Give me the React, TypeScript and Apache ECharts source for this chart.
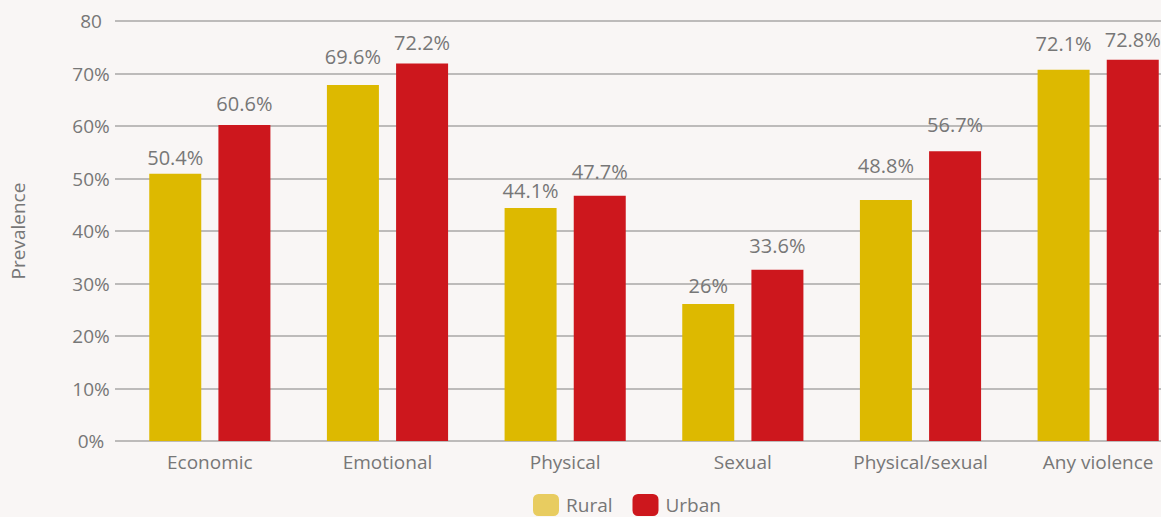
import React, { useEffect, useRef } from "react";
import * as echarts from "echarts";

const categories = ["Economic", "Emotional", "Physical", "Sexual", "Physical/sexual", "Any violence"];
const seriesNames = ["Rural", "Urban"];
// bar heights as drawn
const ruralBars = [50.9, 67.8, 44.4, 26.1, 45.9, 70.7];
const urbanBars = [60.2, 71.9, 46.7, 32.6, 55.2, 72.6];
// values printed as labels
const ruralLabels = [50.4, 69.6, 44.1, 26, 48.8, 72.1];
const urbanLabels = [60.6, 72.2, 47.7, 33.6, 56.7, 72.8];
const yTicks = [0, 10, 20, 30, 40, 50, 60, 70, 80];

const FONT = "Open Sans";
const GREY = "#777777";
const GOLD = "#ddb900";
const RED = "#cd171d";
const GOLD_LEGEND = "#e8cc60";

export default function App() {
  const ref = useRef<HTMLDivElement>(null);
  useEffect(() => {
    if (!ref.current) return;
    const chart = echarts.init(ref.current, null, { renderer: "svg" });
    const gridBars = { left: 121, right: 0, top: 21, bottom: 76, containLabel: false };
    const yBase = {
      type: "value",
      min: 0,
      max: 80,
      interval: 10,
    };
    chart.setOption({
      animation: false,
      backgroundColor: "#f9f6f5",
      textStyle: { fontFamily: FONT },
      grid: [
        { left: 113, right: 26, top: 21, bottom: 76 },
        gridBars,
        gridBars,
      ],
      xAxis: [
        { type: "category", gridIndex: 0, data: categories, show: false },
        {
          type: "category",
          gridIndex: 1,
          data: categories,
          axisLine: { show: false },
          axisTick: { show: false },
          axisLabel: { color: GREY, fontSize: 19, fontFamily: FONT, margin: 11, interval: 0 },
        },
        { type: "category", gridIndex: 2, data: categories, show: false },
      ],
      yAxis: [
        {
          ...yBase,
          gridIndex: 0,
          name: "Prevalence",
          nameLocation: "middle",
          nameGap: 88,
          nameRotate: 90,
          nameTextStyle: { color: GREY, fontSize: 19, fontFamily: FONT },
          axisLine: { show: false },
          axisTick: { show: false },
          splitLine: { show: true, lineStyle: { color: "#a9a7a6", width: 1.5 } },
          axisLabel: {
            color: GREY,
            fontSize: 19,
            fontFamily: FONT,
            align: "center",
            margin: 24,
            formatter: (v: number) => (v === yTicks[yTicks.length - 1] ? `${v}` : `${v}%`),
          },
        },
        { ...yBase, gridIndex: 1, show: false, splitLine: { show: false } },
        { ...yBase, gridIndex: 2, show: false, splitLine: { show: false } },
      ],
      legend: {
        top: 489,
        left: 528,
        itemWidth: 26,
        itemHeight: 22,
        itemGap: 20,
        textStyle: { color: GREY, fontSize: 19, lineHeight: 20, fontFamily: FONT, padding: [0, 0, 0, 2] },
        data: [
          { name: seriesNames[0], itemStyle: { color: GOLD_LEGEND } },
          { name: seriesNames[1], itemStyle: { color: RED } },
        ],
      },
      series: [
        {
          name: seriesNames[0],
          type: "bar",
          xAxisIndex: 1,
          yAxisIndex: 1,
          data: ruralBars,
          barWidth: 52,
          barGap: "33%",
          itemStyle: { color: GOLD },
        },
        {
          name: seriesNames[1],
          type: "bar",
          xAxisIndex: 1,
          yAxisIndex: 1,
          data: urbanBars,
          barWidth: 52,
          barGap: "33%",
          itemStyle: { color: RED },
        },
        {
          name: "rural-label",
          type: "bar",
          xAxisIndex: 2,
          yAxisIndex: 2,
          data: ruralLabels,
          barWidth: 52,
          barGap: "33%",
          itemStyle: { color: "rgba(0,0,0,0)" },
          silent: true,
          label: {
            show: true,
            position: "top",
            distance: 9,
            color: GREY,
            fontSize: 20,
            fontFamily: FONT,
            formatter: (p: any) => `${p.value}%`,
          },
        },
        {
          name: "urban-label",
          type: "bar",
          xAxisIndex: 2,
          yAxisIndex: 2,
          data: urbanLabels,
          barWidth: 52,
          barGap: "33%",
          itemStyle: { color: "rgba(0,0,0,0)" },
          silent: true,
          label: {
            show: true,
            position: "top",
            distance: 9,
            color: GREY,
            fontSize: 20,
            fontFamily: FONT,
            formatter: (p: any) => `${p.value}%`,
          },
        },
      ],
    });
    return () => chart.dispose();
  }, []);
  return (
    <div style={{ position: "absolute", left: 0, top: 0, width: 1161, height: 517, overflow: "hidden" }}>
      <div ref={ref} style={{ width: 1187, height: 517 }} />
    </div>
  );
}
